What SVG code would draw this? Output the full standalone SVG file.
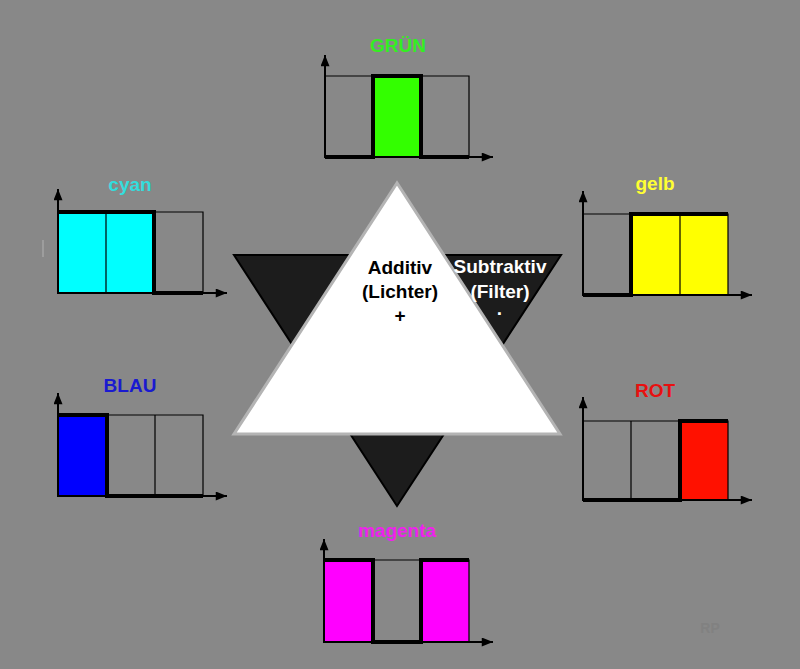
<svg xmlns="http://www.w3.org/2000/svg" width="800" height="669" viewBox="0 0 800 669">
<defs>
<marker id="ah" viewBox="0 0 10 8" markerWidth="12" markerHeight="9" refX="10" refY="4" orient="auto" markerUnits="userSpaceOnUse">
<path d="M0,0 L10,4 L0,8 z" fill="#000"/>
</marker>
<style>
.axis{stroke:#000;stroke-width:2;fill:none;marker-end:url(#ah)}
.grid{stroke:#000;stroke-width:1.2;fill:none}
.spec{stroke:#000;stroke-width:4;fill:none;stroke-linejoin:miter}
.lbl{font-family:"Liberation Sans",Arial,sans-serif;font-weight:bold;font-size:19px;text-anchor:middle}
.tri{font-family:"Liberation Sans",Arial,sans-serif;font-weight:bold;font-size:19px;text-anchor:middle}
</style>
</defs>
<rect width="800" height="669" fill="#888888"/>
<line x1="43" y1="240" x2="43" y2="257" stroke="#a4a4a4" stroke-width="1.5"/>

<g id="star">
<polygon points="234,255 561,255 397,506" fill="#1c1c1c" stroke="#000" stroke-width="2"/>
<polygon points="397,183 234,434 560,434" fill="#ffffff" stroke="#b4b4b4" stroke-width="3"/>
<text class="tri" x="400" y="274" fill="#000">Additiv</text>
<text class="tri" x="400" y="298" fill="#000">(Lichter)</text>
<text class="tri" x="400" y="322" fill="#000">+</text>
<text class="tri" x="500" y="273" fill="#fff">Subtraktiv</text>
<text class="tri" x="500" y="298" fill="#fff">(Filter)</text>
<text class="tri" x="500" y="320" fill="#fff">·</text>
</g>

<g id="gruen">
<text class="lbl" x="398" y="52" fill="#33ee22">GRÜN</text>
<rect x="373" y="76" width="48" height="81" fill="#33ff00"/>
<path class="grid" d="M325,76 H469 V157 M421,76 V157"/>
<path class="spec" d="M325,157 H373 V76 H421 V157 H469"/>
<path class="axis" d="M325,158 V55"/>
<path class="axis" d="M324,157 H493"/>
</g>

<g id="cyan">
<text class="lbl" x="130" y="191" fill="#33dddd">cyan</text>
<rect x="58" y="212" width="96" height="81" fill="#00ffff"/>
<path class="grid" d="M58,212 H203 V293 M106,212 V293"/>
<path class="spec" d="M58,212 H154 V293 H203"/>
<path class="axis" d="M58,294 V189"/>
<path class="axis" d="M57,293 H227"/>
</g>

<g id="gelb">
<text class="lbl" x="655" y="190" fill="#ffff33">gelb</text>
<rect x="631" y="214" width="97" height="81" fill="#ffff00"/>
<path class="grid" d="M583,214 H728 V295 M680,214 V295"/>
<path class="spec" d="M583,295 H631 V214 H728"/>
<path class="axis" d="M583,296 V191"/>
<path class="axis" d="M582,295 H752"/>
</g>

<g id="rot">
<text class="lbl" x="655" y="397" fill="#e81010">ROT</text>
<rect x="680" y="421" width="48" height="79" fill="#ff1100"/>
<path class="grid" d="M583,421 H728 V500 M631,421 V500"/>
<path class="spec" d="M583,500 H680 V421 H728"/>
<path class="axis" d="M583,501 V397"/>
<path class="axis" d="M582,500 H752"/>
</g>

<g id="blau">
<text class="lbl" x="130" y="392" fill="#1a1ad0">BLAU</text>
<rect x="58" y="415" width="49" height="81" fill="#0000ff"/>
<path class="grid" d="M58,415 H203 V496 M155,415 V496"/>
<path class="spec" d="M58,415 H107 V496 H203"/>
<path class="axis" d="M58,497 V393"/>
<path class="axis" d="M57,496 H227"/>
</g>

<g id="magenta">
<text class="lbl" x="397" y="537" fill="#ee22ee">magenta</text>
<rect x="324" y="560" width="49" height="82" fill="#ff00ff"/>
<rect x="421" y="560" width="48" height="82" fill="#ff00ff"/>
<path class="grid" d="M324,560 H469 V642"/>
<path class="spec" d="M324,560 H373 V642 H421 V560 H469"/>
<path class="axis" d="M324,643 V539"/>
<path class="axis" d="M323,642 H493"/>
</g>

<g id="connectors"></g>

<text x="710" y="633" font-family="'Liberation Sans',Arial,sans-serif" font-weight="bold" font-size="14" fill="#818181" text-anchor="middle">RP</text>
</svg>
